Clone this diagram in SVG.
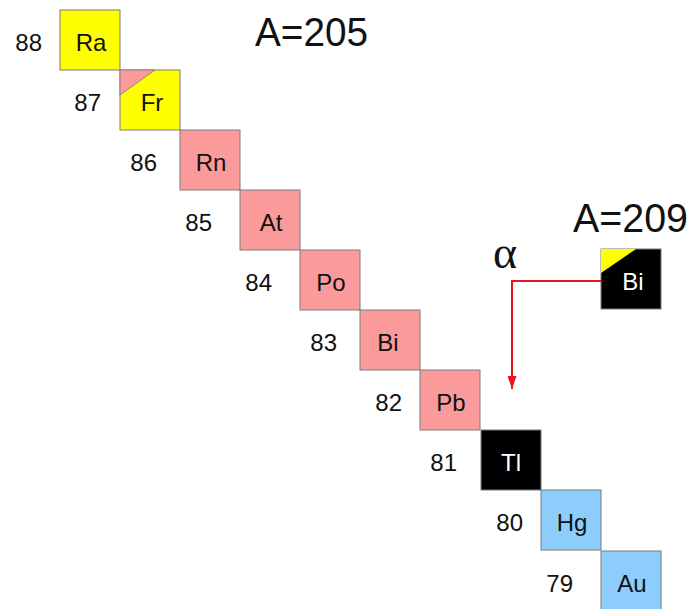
<svg xmlns="http://www.w3.org/2000/svg" width="690" height="609" viewBox="0 0 690 609">
<style>
.box{stroke:#7a7a7a;stroke-width:1}
.y{fill:#ffff00}.p{fill:#fa9a9a}.b{fill:#8ccdfb}.k{fill:#000}
.sym{font-family:"Liberation Sans",Arial,sans-serif;font-size:24px;text-anchor:middle;fill:#111}
.w{fill:#fff}
.num{font-family:"Liberation Sans",Arial,sans-serif;font-size:24px;text-anchor:end;fill:#111}
.big{font-family:"Liberation Sans",Arial,sans-serif;font-size:40px;fill:#111}
</style>
<defs>
<marker id="ah" markerWidth="13" markerHeight="9" refX="13" refY="4.5" orient="auto" markerUnits="userSpaceOnUse" viewBox="0 0 13 9">
<path d="M0,0 L13,4.5 L0,9 Z" fill="#e8141c"/>
</marker>
</defs>
<text class="big" x="255" y="46" textLength="113" lengthAdjust="spacingAndGlyphs">A=205</text>
<text class="big" x="573" y="232" textLength="115" lengthAdjust="spacingAndGlyphs">A=209</text>
<g id="Ra"><rect class="box y" x="60" y="10" width="60" height="60"/><text class="sym" x="91" y="51">Ra</text><text class="num" x="42" y="51">88</text></g>
<g id="Fr"><rect class="box y" x="120" y="70" width="60" height="60"/><path d="M120,70 L155,70 L120,95 Z" class="p" stroke="#7a7a7a" stroke-width="0.8"/><text class="sym" x="152" y="111">Fr</text><text class="num" x="101" y="111">87</text></g>
<g id="Rn"><rect class="box p" x="180" y="130" width="60" height="60"/><text class="sym" x="211" y="171">Rn</text><text class="num" x="157" y="171">86</text></g>
<g id="At"><rect class="box p" x="240" y="190" width="60" height="60"/><text class="sym" x="271" y="231">At</text><text class="num" x="212" y="231">85</text></g>
<g id="Po"><rect class="box p" x="300" y="250" width="60" height="60"/><text class="sym" x="331" y="291">Po</text><text class="num" x="272" y="291">84</text></g>
<g id="Bi"><rect class="box p" x="360" y="310" width="60" height="60"/><text class="sym" x="388" y="351">Bi</text><text class="num" x="337" y="351">83</text></g>
<g id="Pb"><rect class="box p" x="420" y="370" width="60" height="60"/><text class="sym" x="451" y="411">Pb</text><text class="num" x="402" y="411">82</text></g>
<g id="Tl"><rect class="box k" x="481" y="430" width="60" height="60"/><text class="sym w" x="511" y="471">Tl</text><text class="num" x="457" y="471">81</text></g>
<g id="Hg"><rect class="box b" x="541" y="490" width="60" height="60"/><text class="sym" x="572" y="531">Hg</text><text class="num" x="523" y="531">80</text></g>
<g id="Au"><rect class="box b" x="601" y="551" width="60" height="60"/><text class="sym" x="632" y="592">Au</text><text class="num" x="573" y="592">79</text></g>
<g id="Bi209"><rect class="box k" x="601" y="249" width="60" height="60"/><path d="M601,249 L636,249 L601,273 Z" class="y"/><text class="sym w" x="633" y="290">Bi</text></g>
<text x="493" y="268" font-family="Liberation Serif,'Times New Roman',serif" font-size="46" fill="#111">α</text>
<g id="connectors">
<path d="M601,281 L512,281 L512,389" fill="none" stroke="#e8141c" stroke-width="2" marker-end="url(#ah)"/>
</g>
</svg>
